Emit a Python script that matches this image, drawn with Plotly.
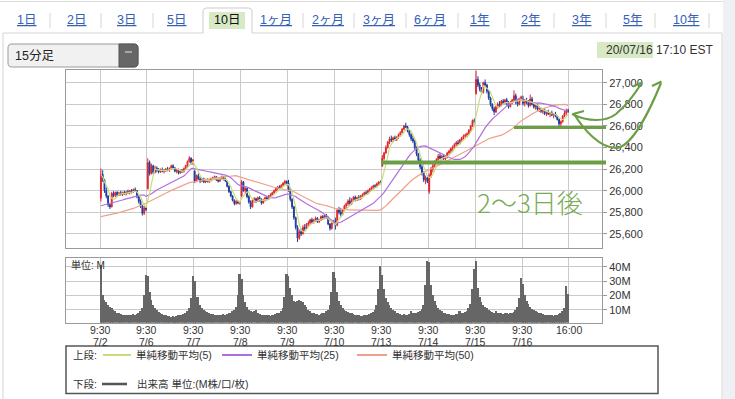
import numpy as np
import pandas as pd
import plotly.graph_objects as go

W, H = 735, 399
def X(p): return p / W
def Y(p): return 1 - p / H

# ---------------- data ----------------
days = ["7/2", "7/6", "7/7", "7/8", "7/9", "7/10", "7/13", "7/14", "7/15", "7/16"]
bars_per_day = 26

opens = [
 25930,26150,26100,26000,25950,25870,25850,25975,25955,25985,25960,25980,25965,25985,25970,25990,25980,26000,25990,26010,26000,25945,25900,25860,25790,25840,
 26020,26260,26160,26230,26170,26210,26190,26175,26195,26180,26185,26200,26190,26205,26230,26210,26180,26190,26165,26185,26175,26205,26230,26270,26300,26255,
 26180,26090,26140,26110,26090,26110,26080,26100,26085,26095,26110,26120,26130,26100,26090,26110,26125,26110,26090,26040,25990,25950,25910,25880,25900,25885,
 25950,26080,26000,26020,25945,25895,25850,25910,25925,25900,25935,25915,25885,25915,25935,25920,25950,25960,25980,26000,26020,26035,26020,26050,26070,26085,
 26070,26010,25920,25850,25750,25660,25560,25620,25600,25660,25650,25690,25700,25730,25710,25725,25745,25715,25730,25760,25745,25770,25750,25690,25650,25700,
 25720,25680,25820,25800,25780,25820,25860,25880,25905,25880,25920,25940,25915,25935,25925,25950,25965,25980,25975,26000,26015,26030,26045,26040,26065,26080,
 26230,26300,26350,26400,26450,26480,26470,26490,26475,26495,26520,26540,26570,26600,26590,26555,26520,26480,26460,26400,26340,26280,26220,26160,26100,26120,
 25990,26140,26200,26230,26260,26290,26320,26300,26320,26295,26310,26350,26365,26390,26400,26430,26445,26435,26470,26490,26505,26515,26525,26560,26600,26650,
 26900,27030,26980,26940,26910,27000,26980,26920,26860,26800,26760,26730,26780,26800,26790,26830,26815,26840,26810,26780,26820,26840,26880,26820,26800,26850,
 26850,26810,26840,26820,26790,26850,26800,26775,26790,26755,26760,26735,26745,26715,26725,26710,26720,26700,26710,26690,26660,26620,26640,26690,26720,26745,
]
highs = [
 26205,26190,26110,26030,25960,25880,25990,25995,25990,25995,25990,26000,25990,26000,25995,26010,26005,26015,26020,26030,26005,25960,25920,25870,25860,25850,
 26300,26280,26250,26240,26230,26225,26210,26205,26215,26200,26210,26220,26215,26240,26245,26220,26200,26205,26195,26200,26215,26240,26280,26320,26310,26290,
 26190,26150,26160,26130,26120,26120,26110,26115,26110,26120,26130,26140,26135,26110,26120,26140,26135,26120,26095,26050,26000,25960,25920,25915,25910,25905,
 26100,26090,26040,26030,25960,25910,25920,25940,25935,25945,25950,25930,25925,25945,25950,25960,25975,25990,26010,26030,26045,26050,26060,26080,26100,26095,
 26100,26020,25930,25860,25760,25680,25640,25650,25680,25690,25700,25720,25740,25750,25740,25760,25755,25740,25770,25775,25780,25785,25760,25700,25720,25730,
 25750,25830,25850,25840,25830,25870,25890,25920,25940,25930,25950,25955,25945,25960,25960,25975,25990,26000,26010,26025,26040,26055,26060,26075,26090,26095,
 26330,26360,26420,26460,26500,26510,26500,26510,26505,26530,26550,26580,26610,26630,26600,26570,26530,26510,26470,26410,26350,26300,26240,26180,26140,26130,
 26160,26220,26250,26280,26300,26340,26350,26330,26340,26320,26360,26380,26400,26420,26440,26460,26470,26480,26500,26520,26530,26540,26570,26610,26660,26670,
 27110,27060,27000,26960,27010,27030,26990,26930,26870,26810,26780,26790,26820,26830,26840,26850,26850,26860,26830,26830,26850,26930,26900,26850,26860,26880,
 26880,26850,26860,26840,26890,26870,26820,26800,26810,26780,26770,26760,26760,26740,26750,26730,26740,26720,26730,26700,26670,26650,26700,26740,26760,26760,
]
lows = [
 25900,26080,25980,25930,25850,25830,25845,25940,25940,25945,25950,25955,25950,25960,25955,25970,25965,25975,25980,25990,25930,25880,25840,25770,25775,25810,
 26010,26140,26150,26150,26160,26170,26160,26165,26170,26160,26175,26180,26175,26195,26200,26170,26160,26150,26155,26165,26170,26195,26220,26260,26240,26240,
 26070,26080,26100,26070,26080,26070,26070,26075,26070,26085,26095,26100,26090,26075,26080,26100,26095,26080,26030,25980,25940,25900,25865,25870,25875,25870,
 25940,25990,25970,25930,25880,25830,25845,25890,25885,25895,25900,25870,25880,25900,25910,25915,25935,25950,25970,25990,26005,26010,26015,26035,26050,26050,
 25990,25900,25830,25730,25640,25525,25545,25580,25595,25630,25640,25670,25680,25690,25695,25710,25700,25700,25720,25730,25735,25740,25680,25630,25640,25690,
 25640,25670,25780,25760,25770,25810,25830,25860,25860,25870,25895,25900,25905,25910,25915,25930,25950,25960,25965,25985,26000,26015,26025,26030,26050,26060,
 26220,26280,26340,26390,26430,26450,26450,26460,26460,26480,26500,26530,26560,26580,26540,26500,26460,26440,26380,26320,26260,26200,26140,26080,26060,26070,
 25970,26120,26170,26210,26250,26280,26290,26280,26285,26280,26300,26335,26350,26370,26390,26410,26420,26430,26450,26470,26490,26495,26515,26550,26590,26620,
 26890,26960,26920,26890,26900,26960,26900,26840,26780,26740,26700,26720,26760,26770,26780,26800,26800,26790,26760,26770,26800,26830,26800,26780,26790,26830,
 26790,26780,26800,26770,26780,26790,26760,26750,26740,26730,26720,26710,26700,26690,26700,26680,26690,26670,26680,26650,26600,26590,26630,26680,26700,26720,
]
closes = [
 26150,26100,26000,25950,25870,25850,25975,25955,25985,25960,25980,25965,25985,25970,25990,25980,26000,25990,26010,26000,25945,25900,25860,25790,25840,25827,
 26260,26160,26230,26170,26210,26190,26175,26195,26180,26185,26200,26190,26205,26230,26210,26180,26190,26165,26185,26175,26205,26230,26270,26300,26255,26287,
 26090,26140,26110,26090,26110,26080,26100,26085,26095,26110,26120,26130,26100,26090,26110,26125,26110,26090,26040,25990,25950,25910,25880,25900,25885,25890,
 26080,26000,26020,25945,25895,25850,25910,25925,25900,25935,25915,25885,25915,25935,25920,25950,25960,25980,26000,26020,26035,26020,26050,26070,26085,26067,
 26010,25920,25850,25750,25660,25560,25620,25600,25660,25650,25690,25700,25730,25710,25725,25745,25715,25730,25760,25745,25770,25750,25690,25650,25700,25706,
 25680,25820,25800,25780,25820,25860,25880,25905,25880,25920,25940,25915,25935,25925,25950,25965,25980,25975,26000,26015,26030,26045,26040,26065,26080,26075,
 26300,26350,26400,26450,26480,26470,26490,26475,26495,26520,26540,26570,26600,26590,26555,26520,26480,26460,26400,26340,26280,26220,26160,26100,26120,26085,
 26140,26200,26230,26260,26290,26320,26300,26320,26295,26310,26350,26365,26390,26400,26430,26445,26435,26470,26490,26505,26515,26525,26560,26600,26650,26643,
 27030,26980,26940,26910,27000,26980,26920,26860,26800,26760,26730,26780,26800,26790,26830,26815,26840,26810,26780,26820,26840,26880,26820,26800,26850,26870,
 26810,26840,26820,26790,26850,26800,26775,26790,26755,26760,26735,26745,26715,26725,26710,26720,26700,26710,26690,26660,26620,26640,26690,26720,26745,26734,
]
volumes = [
 41,20,17,15,13,12,11,10,9,8,7.5,7,6.5,6.5,6,6.5,6,6.5,7,6.5,7,8,9,11,20,34,
 33,22,17,13,11,9.5,8.5,8,7,6.5,6,5.5,5.5,5,5.5,5,5.5,6,6.5,6,7,8,9,11,18,33,
 30,19,18.5,13,11,10,9,8.5,8,7,7,6.5,6.5,6,6.5,6,7,6.5,7,7.5,8,9,10,12,20,35,
 31,20,15,12,10,9,8.5,9,10,8,7,6.5,6,6.5,6,6,5.5,6,6.5,7,7.5,8,9,11,19,35,
 33,25,20,16,15,16,17,16,15,13,12,10,9,8,7.5,7,7,6.5,7,7.5,8,9,10,13,22,36,
 32,22,16,13,11,9.5,9,8.5,8,7.5,7,6.5,6,6,5.5,5.5,6,6,6.5,7,7.5,8.5,10,13,24,40,
 34,24,18,15,13,11,10,9,8,7.5,7,6.5,7,6.5,6.5,7,9,8,7.5,8,8.5,9,10.5,13,27,44,
 43,27,20,16,13,11,10,9,8,7.5,7,7,6.5,6,6.5,7,7,9,7.5,8,8.5,9,11,14,24,38,
 44,25,19,15,13,12,11,10,9,8.5,8,9,8,7.5,8,7,8,7.5,7,7.5,8,8.5,9.5,12,18,32,
 28,20,16,14,12,10.5,9.5,9,8.5,8,7.5,7,6.5,6.5,6,6,6,5.5,6,6.5,7,8,9,11,26.5,21,
]
ma25_start = [25860,25864,25868,25872,25876,25880,25884,25889,25894,25899,25904,25909,25914,25919,25924,
              25929,25934,25939,25944,25949,25953,25956,25958,25959]
ma50_start = [25760,25763,25766,25770,25773,25777,25781,25785,25789,25793,25797,25801,25805,25810,25815,
              25820,25825,25830,25836,25842,25848,25855,25862,25869,25876,25884,25893,25902,25911,25920,
              25929,25938,25946,25954,25962,25970,25978,25986,25994,26002,26010,26018,26026,26034,26042,
              26050,26057,26063,26069]

price_ticks = [25600, 25800, 26000, 26200, 26400, 26600, 26800, 27000]
vol_ticks = [10, 20, 30, 40]
vol_tick_text = ["10M", "20M", "30M", "40M"]
tabs = ["1日", "2日", "3日", "5日", "10日", "1ヶ月", "2ヶ月", "3ヶ月", "6ヶ月", "1年", "2年", "3年", "5年", "10年"]
ma_names = ["単純移動平均(5)", "単純移動平均(25)", "単純移動平均(50)"]

# ---------------- derived ----------------
n = len(closes)
xpos = np.arange(n) + 0.5
day_ticks = list(range(0, n + 1, bars_per_day))
time_labels = ["9:30"] * len(days) + ["16:00"]
s = pd.Series(closes, dtype=float)
ma5 = s.rolling(5, min_periods=1).mean()
ma25 = s.rolling(25).mean(); ma25.iloc[:24] = ma25_start
ma50 = s.rolling(50).mean(); ma50.iloc[:49] = ma50_start

RED, BLUE = "#e3242b", "#1d3b9e"
C5, C25, C50 = "#c9dc7a", "#b06fe0", "#f0a08a"
GREEN, GREEN_T = "#6c9f45", "#78ab55"
FONT = "Liberation Sans, Arial, Noto Sans CJK JP, sans-serif"
GRID = "#cacaca"
AX = "#9a9a9a"
TXT = "#333333"

fig = go.Figure()
fig.add_trace(go.Candlestick(
    x=xpos, open=opens, high=highs, low=lows, close=closes,
    increasing=dict(line=dict(color=RED, width=1), fillcolor=RED),
    decreasing=dict(line=dict(color=BLUE, width=1), fillcolor=BLUE),
    whiskerwidth=0, xaxis="x", yaxis="y", hoverinfo="skip"))
for ma, col in [(ma50, C50), (ma25, C25), (ma5, C5)]:
    fig.add_trace(go.Scatter(x=xpos, y=ma, mode="lines", line=dict(color=col, width=1.2),
                             xaxis="x", yaxis="y", hoverinfo="skip"))
fig.add_trace(go.Bar(x=xpos, y=volumes, width=1, marker=dict(color="#666666", line=dict(width=0)),
                     xaxis="x2", yaxis="y2", hoverinfo="skip"))

xr = [-18.85, 278.3]
dom_x = [X(66), X(602)]
common_x = dict(domain=dom_x, range=xr, tickvals=day_ticks, showgrid=True, gridcolor=GRID, gridwidth=1,
                zeroline=False, showline=True, mirror=True, linecolor=AX, linewidth=1, fixedrange=True,
                showticklabels=False, ticks="")
fig.update_layout(
    width=W, height=H, margin=dict(l=0, r=0, t=0, b=0),
    paper_bgcolor="white", plot_bgcolor="white", showlegend=False, bargap=0,
    font=dict(family=FONT, size=11, color=TXT),
    xaxis=dict(**common_x, anchor="y", rangeslider=dict(visible=False)),
    yaxis=dict(domain=[Y(248), Y(70)], range=[25469, 27118], side="right", anchor="x",
               tickvals=price_ticks, tickformat=",", ticks="outside", ticklen=4, tickcolor=AX,
               showgrid=True, gridcolor=GRID, zeroline=False, showline=True, mirror=True,
               linecolor=AX, tickfont=dict(size=11, color=TXT), fixedrange=True),
    xaxis2=dict(**common_x, anchor="y2"),
    yaxis2=dict(domain=[Y(322.7), Y(258.3)], range=[1.2, 45.8], side="right", anchor="x2",
                tickvals=vol_ticks, ticktext=vol_tick_text, ticks="outside", ticklen=4, tickcolor=AX,
                showgrid=True, gridcolor=GRID, zeroline=False, showline=True, mirror=True,
                linecolor=AX, tickfont=dict(size=11, color=TXT), fixedrange=True),
)

shapes, ann = [], []
def line(x0, y0, x1, y1, color, w, layer="above"):
    shapes.append(dict(type="line", xref="paper", yref="paper", x0=X(x0), y0=Y(y0), x1=X(x1), y1=Y(y1),
                       line=dict(color=color, width=w), layer=layer))
def rect(x0, y0, x1, y1, fill, color=None, w=0, layer="above"):
    shapes.append(dict(type="rect", xref="paper", yref="paper", x0=X(x0), y0=Y(y0), x1=X(x1), y1=Y(y1),
                       fillcolor=fill, line=dict(color=color or fill, width=w), layer=layer))
def path(segs, color, w, fill=None, layer="above"):
    out = []
    for cmd, pts in segs:
        out.append(cmd + " " + " ".join(f"{X(a):.5f},{Y(b):.5f}" for a, b in pts))
    shapes.append(dict(type="path", xref="paper", yref="paper", path=" ".join(out),
                       line=dict(color=color, width=w), fillcolor=fill or "rgba(0,0,0,0)", layer=layer))
def text(x, y, t, size=11, color=TXT, anchor="left", family=FONT, weight=None):
    f = dict(size=size, color=color, family=family)
    if weight: f["weight"] = weight
    ann.append(dict(xref="paper", yref="paper", x=X(x), y=Y(y), text=t, showarrow=False,
                    xanchor=anchor, yanchor="middle", font=f, borderpad=0))

# page chrome
rect(723, 0, 735, 399, "#eef0f4")
line(0, 1.5, 723, 1.5, "#dddddd", 1)
line(3, 33, 203, 33, "#d4d4d4", 1)
line(252, 33, 722, 33, "#d4d4d4", 1)
line(3, 33, 3, 399, "#d4d4d4", 1)
line(722, 33, 722, 399, "#d4d4d4", 1)
path([("M", [(203, 33)]), ("L", [(203, 12)]), ("Q", [(203, 8), (207, 8)]), ("L", [(248, 8)]),
      ("Q", [(252, 8), (252, 12)]), ("L", [(252, 33)])], "#cccccc", 1, fill="white")
rect(209, 12, 245, 29, "rgba(175,212,140,0.5)")
rect(597, 42, 653, 58, "rgba(175,212,140,0.5)")
tab_x = [26, 76, 126, 176, 227, 276, 328, 379, 430, 480, 530, 581, 632, 686]
for t, cx in zip(tabs, tab_x):
    if t == "10日":
        text(cx, 20, t, 12.5, "#111111", "center")
    else:
        text(cx, 20, f"<u>{t}</u>", 12.5, "#3460b5", "center")
for sx in [50, 101, 153, 303, 354, 406, 458, 505, 554, 606, 655, 709]:
    line(sx, 13, sx, 28, "#d6d6d6", 1)
# dropdown
path([("M", [(12, 44)]), ("L", [(134, 44)]), ("Q", [(138, 44), (138, 48)]), ("L", [(138, 63)]),
      ("Q", [(138, 67), (134, 67)]), ("L", [(12, 67)]), ("Q", [(8, 67), (8, 63)]), ("L", [(8, 48)]),
      ("Q", [(8, 44), (12, 44)]), ("Z", [])], "#9a9a9a", 1, fill="#f1f1f1")
path([("M", [(119, 44)]), ("L", [(134, 44)]), ("Q", [(138, 44), (138, 48)]), ("L", [(138, 63)]),
      ("Q", [(138, 67), (134, 67)]), ("L", [(119, 67)]), ("Z", [])], "#555555", 1, fill="#676767")
path([("M", [(125, 52)]), ("L", [(132, 52), (128.5, 58)]), ("Z", [])], "white", 0.5, fill="white")
text(14, 56, "15分足", 12.5, "#222222")
text(714, 50, "20/07/16 17:10 EST", 12, TXT, "right")
text(70, 265, "単位: M", 10, "#333333")

# x-axis labels (time row and date row) placed on the volume x axis
for tv, tl in zip(day_ticks, time_labels):
    ann.append(dict(xref="x2", yref="paper", x=tv, y=Y(330), text=tl, showarrow=False, borderpad=0,
                    xanchor="center", yanchor="middle", font=dict(size=10.5, color=TXT, family=FONT)))
for d, tv in zip(days, day_ticks):
    ann.append(dict(xref="x2", yref="paper", x=tv, y=Y(341.5), text=d, showarrow=False, borderpad=0,
                    xanchor="center", yanchor="middle", font=dict(size=10.5, color=TXT, family=FONT)))

# legend box
rect(66, 346, 658, 393.5, "rgba(0,0,0,0)", "#555555", 1.5)
text(72, 355, "上段:", 10.5)
line(103, 355, 131, 355, C5, 2)
text(135, 355, ma_names[0], 10.5)
line(222, 355, 252, 355, C25, 2)
text(256, 355, ma_names[1], 10.5)
line(357, 355, 387, 355, C50, 2)
text(391, 355, ma_names[2], 10.5)
text(72, 384, "下段:", 10.5)
line(102, 384, 127, 384, "#555555", 2.5)
text(136, 384, "出来高 単位:(M株/口/枚)", 10.5)

# hand-drawn green marks
line(381, 162.5, 606, 162.5, GREEN, 4)
line(514, 127.5, 606, 127.5, GREEN, 3)
path([("M", [(572, 114)]), ("C", [(588, 122), (606, 122), (616, 114)]), ("Q", [(630, 102), (641, 84)])], GREEN, 2.2)
path([("M", [(633, 86.5)]), ("L", [(642, 82.5), (640.5, 93.5)])], GREEN, 2.2)
path([("M", [(574, 114)]), ("C", [(584, 130), (600, 148), (616, 148)]), ("C", [(632, 147), (650, 110), (661, 83)])], GREEN, 2.2)
path([("M", [(652, 86)]), ("L", [(661.5, 81.5), (661.5, 102)])], GREEN, 2.2)
path([("M", [(584, 111)]), ("L", [(573, 114), (584, 118)])], GREEN, 2.2)
text(530, 201, "2〜3日後", 26, GREEN_T, "center", "Noto Sans CJK JP, Liberation Sans, sans-serif", 300)

fig.update_layout(shapes=shapes, annotations=ann)
fig.write_html("out.html", include_plotlyjs=True, config={"displayModeBar": False},
               post_script="document.body.style.margin='0';document.body.style.overflow='hidden';")
